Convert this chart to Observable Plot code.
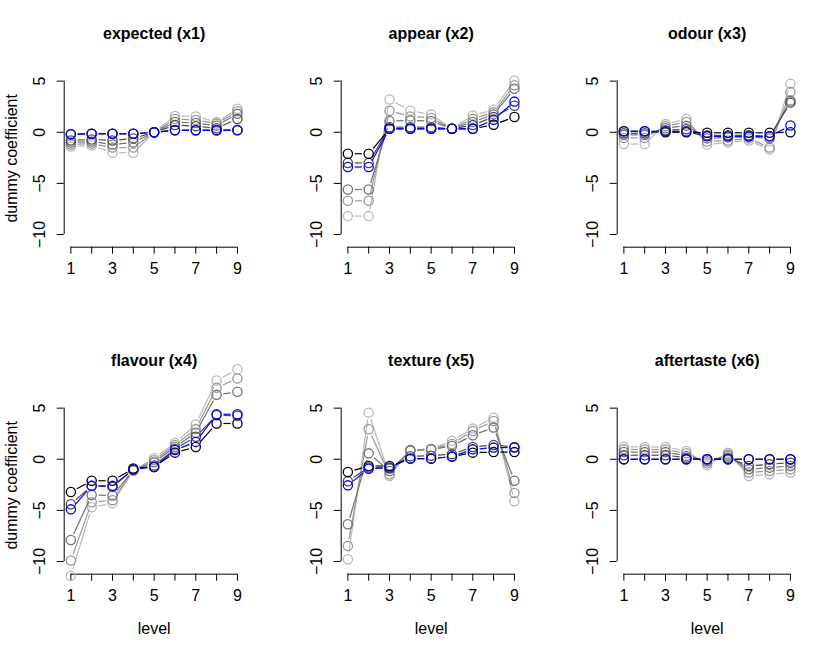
<!DOCTYPE html>
<html><head><meta charset="utf-8">
<script src="https://cdn.jsdelivr.net/npm/d3@7"></script>
<script src="https://cdn.jsdelivr.net/npm/@observablehq/plot@0.6"></script>
<style>
html,body{margin:0;padding:0;background:#fff;}
#chart{position:relative;width:830px;height:653px;overflow:hidden;background:#fff;}
#chart svg{position:absolute;overflow:visible;}
</style></head><body><div id="chart"></div>
<script>
// ---- data ----
const levels = [1, 2, 3, 4, 5, 6, 7, 8, 9];
const xTickLabels = [1, 3, 5, 7, 9];
const yTicks = [-10, -5, 0, 5];
const panelTitles = ["expected (x1)", "appear (x2)", "odour (x3)", "flavour (x4)", "texture (x5)", "aftertaste (x6)"];
const seriesNames = ["path 1", "path 2", "path 3", "path 4", "path 5", "selected"];
const seriesColors = ["#000000", "#4a4a4a", "#727272", "#979797", "#b8b8b8", "#0000ff"];
// drawing order: lightest grey first, blue last
const drawOrder = [4, 3, 2, 1, 0, 5];

// each: [black, grey1, grey2, grey3, grey4, blue] over levels 1..9
const expectedX1 = [
  [-0.2, -0.15, -0.15, -0.15, 0, 0.2, 0.2, 0.2, 0.22],
  [-0.8, -0.7, -0.8, -0.6, 0, 0.7, 0.6, 0.4, 1.3],
  [-1.0, -0.9, -1.2, -1.0, 0, 1.0, 0.9, 0.65, 1.8],
  [-1.2, -1.1, -1.5, -1.5, 0, 1.3, 1.2, 0.85, 2.05],
  [-1.4, -1.3, -2.0, -2.0, 0, 1.6, 1.55, 1.0, 2.3],
  [-0.2, -0.15, -0.15, -0.15, 0, 0.2, 0.2, 0.2, 0.2]
];
const appearX2 = [
  [-2.1, -2.1, 0.34, 0.34, 0.34, 0.34, 0.34, 0.73, 1.5],
  [-3.0, -3.0, 0.5, 0.5, 0.5, 0.34, 0.7, 1.5, 2.6],
  [-5.6, -5.6, 1.1, 1.15, 1.1, 0.34, 1.0, 1.75, 4.25],
  [-6.7, -6.7, 2.1, 1.55, 1.4, 0.34, 1.3, 1.95, 4.6],
  [-8.2, -8.2, 3.2, 2.1, 1.75, 0.34, 1.65, 2.2, 5.07],
  [-3.4, -3.4, 0.34, 0.34, 0.34, 0.34, 0.34, 1.22, 3.0]
];
const odourX3 = [
  [0.1, 0.1, 0.0, 0.0, -0.05, -0.05, -0.05, -0.05, 0.0],
  [-0.1, -0.1, 0.2, 0.3, -0.3, -0.3, -0.3, -0.4, 2.9],
  [-0.25, -0.25, 0.4, 0.65, -0.6, -0.5, -0.45, -0.6, 3.1],
  [-0.55, -0.55, 0.6, 1.0, -0.9, -0.8, -0.6, -1.5, 3.95],
  [-1.15, -1.15, 0.8, 1.3, -1.2, -1.0, -0.8, -1.7, 4.75],
  [0.1, 0.1, 0.1, 0.08, -0.4, -0.4, -0.4, -0.4, 0.66]
];
const flavourX4 = [
  [-3.2, -2.1, -2.1, -0.9, -0.75, 0.65, 1.2, 3.5, 3.5],
  [-4.4, -2.6, -2.7, -1.0, -0.6, 1.0, 2.2, 4.3, 4.25],
  [-7.9, -3.5, -3.55, -1.05, -0.3, 1.2, 2.6, 6.3, 6.6],
  [-9.9, -4.2, -4.0, -1.1, -0.1, 1.4, 2.95, 7.0, 7.9],
  [-11.4, -4.7, -4.3, -1.1, 0.1, 1.6, 3.4, 7.7, 8.8],
  [-4.9, -2.6, -2.6, -1.0, -0.75, 0.9, 1.7, 4.4, 4.4]
];
const textureX5 = [
  [-1.24, -0.66, -0.66, 0.06, 0.06, 0.26, 0.65, 0.7, 0.7],
  [-2.15, -0.8, -0.9, 0.3, 0.35, 0.5, 1.2, 1.4, 1.2],
  [-6.36, 0.58, -1.15, 0.85, 0.95, 1.3, 2.35, 3.1, -2.1],
  [-8.48, 2.93, -1.47, 0.9, 1.0, 1.5, 2.77, 3.75, -3.3],
  [-9.78, 4.56, -1.63, 0.9, 1.0, 1.8, 3.0, 4.07, -4.1],
  [-2.55, -0.92, -0.8, 0.06, 0.06, 0.26, 0.97, 1.14, 1.14]
];
const aftertasteX6 = [
  [0, 0, 0, 0, 0, 0, 0, 0, 0],
  [0.39, 0.4, 0.4, 0.16, 0.0, 0.15, -0.65, -0.49, -0.33],
  [0.71, 0.7, 0.7, 0.33, -0.2, 0.35, -0.98, -0.82, -0.65],
  [0.97, 0.95, 0.95, 0.59, -0.4, 0.5, -1.3, -1.14, -0.98],
  [1.23, 1.2, 1.2, 0.82, -0.6, 0.65, -1.63, -1.47, -1.3],
  [0, 0, 0, 0, 0, 0, 0, 0, 0]
];
const panelData = [expectedX1, appearX2, odourX3, flavourX4, textureX5, aftertasteX6];
const xLabel = "level";
const yLabel = "dummy coefficient";

// ---- layout ----
const W = 830, H = 653;
const figW = W / 3, figH = H / 2;
const mLeft = 63.7, mRight = figW - 243.6, mTop = 69, mBottom = figH - 246.7;
const xRegion = [0.68, 9.32];
const yRegion = [-11.24, 6.14];
const font = "'Liberation Sans', Arial, Helvetica, sans-serif";
const tickFont = 16;
const gap = 6.8; // R type = "b" gap around each point (px)

// library scales matching each panel's frame, used to trim segments (type "b")
const xs = Plot.scale({x: {domain: xRegion, range: [mLeft, figW - mRight]}});
const ys = Plot.scale({y: {domain: yRegion, range: [figH - mBottom, mTop]}});

function trimmed(x1, y1, x2, y2) {
  const px1 = xs.apply(x1), py1 = ys.apply(y1), px2 = xs.apply(x2), py2 = ys.apply(y2);
  const len = Math.hypot(px2 - px1, py2 - py1);
  if (len <= 2 * gap) return null;
  const ux = (px2 - px1) / len, uy = (py2 - py1) / len;
  return {
    x1: xs.invert(px1 + ux * gap), y1: ys.invert(py1 + uy * gap),
    x2: xs.invert(px2 - ux * gap), y2: ys.invert(py2 - uy * gap)
  };
}

const chart = document.getElementById("chart");

panelData.forEach((series, p) => {
  const col = p % 3, row = Math.floor(p / 3);
  const marks = [
    Plot.ruleX([xRegion[0]], {y1: yTicks[0], y2: yTicks[yTicks.length - 1], stroke: "#000", strokeWidth: 1}),
    Plot.ruleY([yRegion[0]], {x1: levels[0], x2: levels[levels.length - 1], stroke: "#000", strokeWidth: 1}),
    Plot.axisY({ticks: yTicks, tickSize: 7, fill: "none", stroke: "#000"}),
    Plot.axisX({ticks: levels, tickSize: 7, fill: "none", stroke: "#000"}),
    Plot.text(yTicks, {y: d => d, text: d => (d < 0 ? "\u2212" + Math.abs(d) : String(d)), frameAnchor: "left", dx: -24, rotate: -90, textAnchor: "middle", lineAnchor: "middle", fontSize: tickFont, fill: "#000"}),
    Plot.text(xTickLabels, {x: d => d, text: d => String(d), frameAnchor: "bottom", dy: 22, lineAnchor: "middle", fontSize: tickFont, fill: "#000"}),
    Plot.text([panelTitles[p]], {frameAnchor: "top", dy: -36, lineAnchor: "middle", fontSize: 16, fontWeight: "bold", fill: "#000"})
  ];
  drawOrder.forEach(s => {
    const vals = series[s];
    const pts = levels.map((lv, i) => ({level: lv, value: vals[i]}));
    const segs = [];
    for (let i = 0; i < levels.length - 1; i++) {
      const t = trimmed(levels[i], vals[i], levels[i + 1], vals[i + 1]);
      if (t) segs.push(t);
    }
    marks.push(Plot.link(segs, {x1: "x1", y1: "y1", x2: "x2", y2: "y2", stroke: seriesColors[s], strokeWidth: 1.2}));
    marks.push(Plot.dot(pts, {x: "level", y: "value", r: 4.6, stroke: seriesColors[s], strokeWidth: 1.3, fill: "none"}));
  });
  if (col === 0) marks.push(Plot.text([yLabel], {frameAnchor: "left", dx: -52, rotate: -90, textAnchor: "middle", lineAnchor: "middle", fontSize: tickFont, fill: "#000"}));
  if (row === 1) marks.push(Plot.text([xLabel], {frameAnchor: "bottom", dy: 55, lineAnchor: "middle", fontSize: tickFont, fill: "#000"}));

  const svg = Plot.plot({
    width: figW, height: figH,
    marginLeft: mLeft, marginRight: mRight, marginTop: mTop, marginBottom: mBottom,
    style: {fontFamily: font, background: "transparent", overflow: "visible"},
    x: {domain: xRegion, axis: null},
    y: {domain: yRegion, axis: null},
    marks
  });
  svg.style.left = (col * figW) + "px";
  svg.style.top = (row * figH) + "px";
  chart.appendChild(svg);
});
</script></body></html>
